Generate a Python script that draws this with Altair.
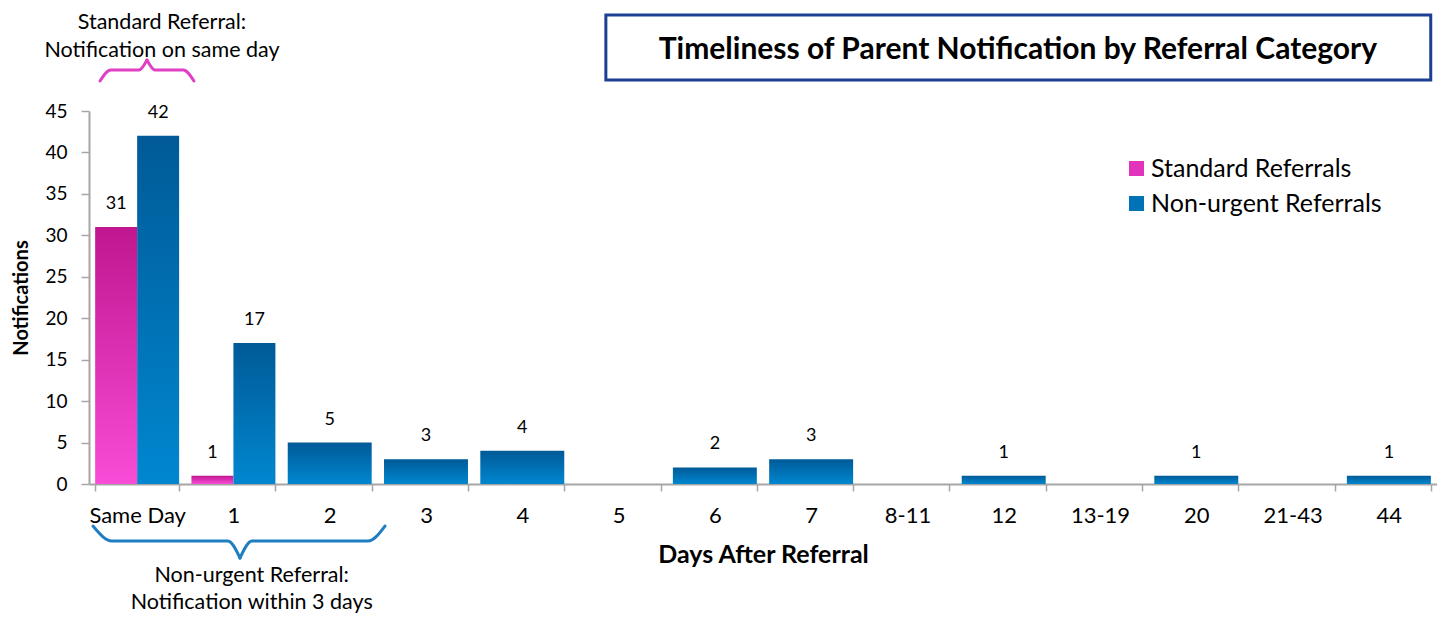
import altair as alt
import pandas as pd

# ---------------- data ----------------
categories = ["Same Day", "1", "2", "3", "4", "5", "6", "7", "8-11", "12",
              "13-19", "20", "21-43", "44"]
series_names = ["Standard Referrals", "Non-urgent Referrals"]
standard_cats = ["Same Day", "1"]
standard_values = [31, 1]
nonurgent_values = [42, 17, 5, 3, 4, 0, 2, 3, 0, 1, 0, 1, 0, 1]

# annotation geometry (x in category units 0..14, y in notification units)
top_brace_x = [0.114, 0.225, 0.52, 0.602, 0.602, 0.684, 0.98, 1.090]
top_brace_y = [48.62, 49.95, 49.95, 51.15, 51.15, 49.95, 49.95, 48.62]
bottom_brace_x = [0.041, 0.238, 1.443, 1.568, 1.568, 1.692, 2.897, 3.074]
bottom_brace_y = [-5.07, -6.88, -6.88, -8.93, -8.93, -6.88, -6.88, -5.07]
brace_half = ["L", "L", "L", "L", "R", "R", "R", "R"]

note_texts = ["Standard Referral:", "Notification on same day",
              "Non-urgent Referral:", "Notification within 3 days"]
note_x = [0.758, 0.758, 1.69, 1.69]
note_y = [54.89, 51.57, -11.82, -15.08]

title_text = ["Timeliness of Parent Notification by Referral Category"]
title_box = {"x": [5.368], "x2": [13.935], "y": [56.58], "y2": [48.74]}
title_pos = {"x": [9.647], "y": [52.36]}

# ---------------- tables ----------------
rows = []
for c, v in zip(standard_cats, standard_values):
    rows.append({"cat": c, "series": series_names[0], "value": v, "paired": True})
for c, v in zip(categories, nonurgent_values):
    rows.append({"cat": c, "series": series_names[1], "value": v,
                 "paired": c in standard_cats})
df = pd.DataFrame(rows)
paired = df[df["paired"] & (df["value"] > 0)]
pink_df = paired[paired["series"] == series_names[0]]
blue_pair_df = paired[paired["series"] == series_names[1]]
single_df = df[(~df["paired"]) & (df["value"] > 0)]

FONT = "Lato"
AXIS_GREY = "#A6A6A6"

pink_grad = alt.LinearGradient(
    gradient="linear", x1=0, x2=0, y1=0, y2=1,
    stops=[alt.GradientStop(color="#C0168F", offset=0),
           alt.GradientStop(color="#F94CD7", offset=1)])
blue_grad = alt.LinearGradient(
    gradient="linear", x1=0, x2=0, y1=0, y2=1,
    stops=[alt.GradientStop(color="#005A97", offset=0),
           alt.GradientStop(color="#0087D0", offset=1)])

x_scale = alt.Scale(domain=categories, paddingInner=0.128, paddingOuter=0.064)
y_scale = alt.Scale(domain=[0, 45], nice=False)

x_enc = alt.X("cat:N", sort=categories, scale=x_scale,
              title="Days After Referral",
              axis=alt.Axis(labelAngle=0, labelFont=FONT, labelFontSize=22,
                            labelColor="black", labelPadding=14,
                            tickBand="extent", tickSize=7, tickWidth=1.5,
                            tickColor=AXIS_GREY, domainColor=AXIS_GREY,
                            domainWidth=2, titleFont=FONT, titleFontSize=25,
                            titleFontWeight="bold", titleColor="black",
                            titlePadding=16))
y_enc = alt.Y("value:Q", scale=y_scale, title="Notifications",
              axis=alt.Axis(values=list(range(0, 50, 5)), grid=False,
                            labelFont=FONT, labelFontSize=19,
                            labelColor="black", labelPadding=14,
                            tickSize=8, tickWidth=1.5, tickColor=AXIS_GREY,
                            domainColor=AXIS_GREY, domainWidth=2,
                            titleFont=FONT, titleFontSize=20,
                            titleFontWeight="bold", titleColor="black",
                            titlePadding=13))
off_enc = alt.XOffset("series:N",
                      scale=alt.Scale(domain=series_names, paddingInner=0,
                                      paddingOuter=0))

legend_layer = alt.Chart(paired).mark_bar(opacity=0).encode(
    x=x_enc, y=y_enc, xOffset=off_enc,
    color=alt.Color("series:N",
                    scale=alt.Scale(domain=series_names,
                                    range=["#E134BB", "#0072B6"]),
                    legend=alt.Legend(title=None, orient="none",
                                      legendX=1035, legendY=45,
                                      symbolType="square", symbolSize=225,
                                      symbolOpacity=1, symbolStrokeWidth=0,
                                      labelFont=FONT, labelFontSize=25,
                                      labelColor="black", labelOffset=2,
                                      labelLimit=400,
                                      rowPadding=9, padding=0)))

pink_bars = alt.Chart(pink_df).mark_bar(color=pink_grad).encode(
    x=x_enc, y=y_enc, xOffset=off_enc)
blue_pair_bars = alt.Chart(blue_pair_df).mark_bar(color=blue_grad).encode(
    x=x_enc, y=y_enc, xOffset=off_enc)
single_bars = alt.Chart(single_df).mark_bar(color=blue_grad).encode(
    x=x_enc, y=y_enc)

label_style = dict(font=FONT, fontSize=18, color="black", baseline="alphabetic",
                   dy=-18)
pair_labels = alt.Chart(paired).mark_text(**label_style).encode(
    x=x_enc, y=y_enc, xOffset=off_enc, text="value:Q")
single_labels = alt.Chart(single_df).mark_text(**label_style).encode(
    x=x_enc, y=y_enc, text="value:Q")

bars = alt.layer(legend_layer, pink_bars, blue_pair_bars, single_bars,
                 pair_labels, single_labels)

# ---------------- annotations ----------------
ax = alt.Scale(domain=[0, 14], nice=False, zero=False)
ay = alt.Scale(domain=[0, 45], nice=False, zero=False)

top_brace = alt.Chart(pd.DataFrame({"x": top_brace_x, "y": top_brace_y,
                                    "half": brace_half})).mark_line(
    interpolate="monotone", color="#E040C4", strokeWidth=3,
    strokeCap="round").encode(
    x=alt.X("x:Q", scale=ax, axis=None), y=alt.Y("y:Q", scale=ay, axis=None),
    detail="half:N")
bottom_brace = alt.Chart(pd.DataFrame({"x": bottom_brace_x, "y": bottom_brace_y,
                                       "half": brace_half})).mark_line(
    interpolate="monotone", color="#1F7EC2", strokeWidth=3,
    strokeCap="round").encode(
    x=alt.X("x:Q", scale=ax, axis=None), y=alt.Y("y:Q", scale=ay, axis=None),
    detail="half:N")
notes = alt.Chart(pd.DataFrame({"t": note_texts, "x": note_x, "y": note_y})).mark_text(
    font=FONT, fontSize=21.5, color="black", baseline="alphabetic").encode(
    x=alt.X("x:Q", scale=ax, axis=None), y=alt.Y("y:Q", scale=ay, axis=None),
    text="t:N")
box = alt.Chart(pd.DataFrame(title_box)).mark_rect(
    fill="white", stroke="#1C3F94", strokeWidth=3).encode(
    x=alt.X("x:Q", scale=ax, axis=None), x2="x2:Q",
    y=alt.Y("y:Q", scale=ay, axis=None), y2="y2:Q")
title = alt.Chart(pd.DataFrame({"t": title_text, **title_pos})).mark_text(
    font=FONT, fontSize=30, fontWeight="bold", color="black",
    baseline="middle").encode(
    x=alt.X("x:Q", scale=ax, axis=None), y=alt.Y("y:Q", scale=ay, axis=None),
    text="t:N")

annotations = alt.layer(box, title, top_brace, bottom_brace, notes)

chart = alt.layer(bars, annotations).resolve_scale(
    x="independent", y="independent"
).properties(
    width=1348, height=373,
    autosize=alt.AutoSizeParams(type="none"),
    padding={"left": 81, "top": 103, "right": 0, "bottom": 130},
    background="white",
).configure_view(strokeWidth=0, stroke="transparent")

chart.save("out.html", embed_options={"renderer": "svg", "actions": False})
